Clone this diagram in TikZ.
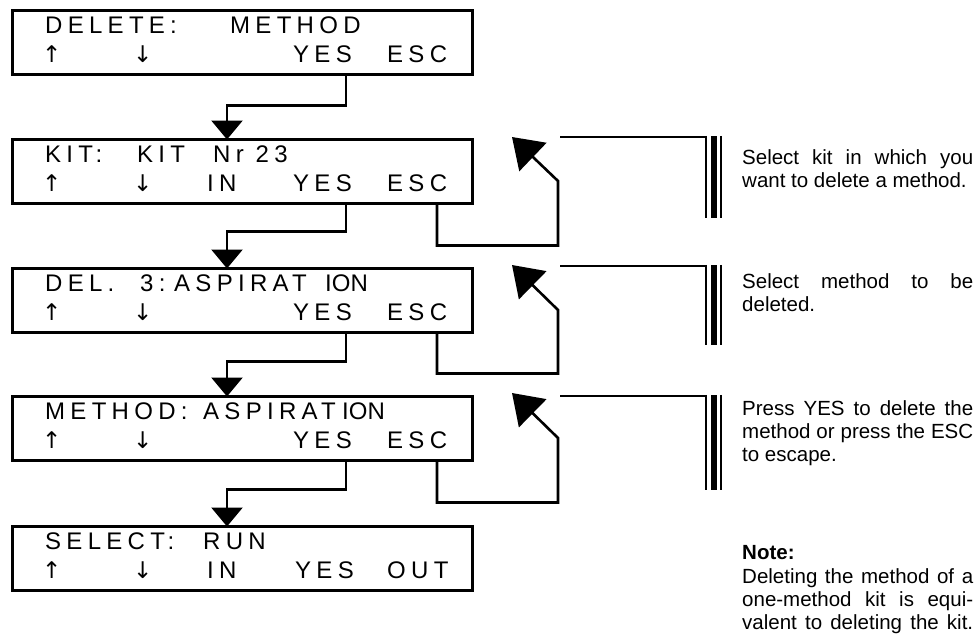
\documentclass[tikz,border=0pt]{standalone}
\usepackage{fontspec}
\setmainfont{Liberation Sans}
\newfontfamily\lcdfont[LetterSpace=22]{Liberation Sans}
\newfontfamily\lcdplain{Liberation Sans}
\newfontfamily\arrowfont{DejaVu Sans}
\usetikzlibrary{arrows.meta,calc}

\tikzset{
  lcdbox/.style={draw, line width=3pt, minimum width=460pt, minimum height=64pt,
                 inner sep=0pt, outer sep=0pt},
  lcdtxt/.style={anchor=base west, inner sep=0pt, font=\lcdfont\fontsize{24}{24}\selectfont},
  lcdion/.style={anchor=base west, inner sep=0pt, font=\lcdplain\fontsize{24}{24}\selectfont},
  lcdarr/.style={anchor=base west, inner sep=0pt, font=\arrowfont\fontsize{23}{23}\selectfont},
  flow/.style={line width=2.6pt, -{Triangle[width=31pt,length=19pt]}},
  back/.style={line width=2.6pt, line join=miter, -{Triangle[width=39pt,length=29pt]}},
  rule/.style={line width=2.5pt},
  note/.style={anchor=base west, inner sep=0pt, font=\fontsize{20.5}{23}\selectfont},
}

\begin{document}
\begin{tikzpicture}[x=1pt,y=-1pt]
\fill[white] (0,0) rectangle (974,643);
\useasboundingbox (0,0) rectangle (974,643);

% display boxes
\node[lcdbox] (b1) at (242,42.5)  {};
\node[lcdbox] (b2) at (242,171.5) {};
\node[lcdbox] (b3) at (242,300.5) {};
\node[lcdbox] (b4) at (242,428.5) {};
\node[lcdbox] (b5) at (242,558.5) {};

% box 1
\node[lcdtxt] (b1a) at (45,33.5)  {DELETE:};
\node[lcdtxt] (b1b) at (230,33.5) {METHOD};
\node[lcdarr] (b1c) at (42,62)    {↑};
\node[lcdarr] (b1d) at (133,62)   {↓};
\node[lcdtxt] (b1e) at (293,62)   {YES};
\node[lcdtxt] (b1f) at (387,62)   {ESC};

% box 2
\node[lcdtxt] (b2a) at (45,162.5)  {KIT:};
\node[lcdtxt] (b2b) at (137,162.5) {KIT};
\node[lcdtxt] (b2c) at (213,162.5) {Nr 23};
\node[lcdarr] (b2d) at (42,191)    {↑};
\node[lcdarr] (b2e) at (133,191)   {↓};
\node[lcdtxt] (b2f) at (207,191)   {IN};
\node[lcdtxt] (b2g) at (293,191)   {YES};
\node[lcdtxt] (b2h) at (387,191)   {ESC};

% box 3
\node[lcdtxt] (b3a) at (45,291.5)  {DEL.};
\node[lcdtxt] (b3b) at (140,291.5) {3:};
\node[lcdtxt] (b3c) at (174,291.5) {ASPIRAT};
\node[lcdion] (b3d) at (325,291.5) {ION};
\node[lcdarr] (b3e) at (42,320)    {↑};
\node[lcdarr] (b3f) at (133,320)   {↓};
\node[lcdtxt] (b3g) at (293,320)   {YES};
\node[lcdtxt] (b3h) at (387,320)   {ESC};

% box 4
\node[lcdtxt] (b4a) at (45,419.5)  {METHOD:};
\node[lcdtxt] (b4b) at (203,419.5) {ASPIRAT};
\node[lcdion] (b4c) at (342,419.5) {ION};
\node[lcdarr] (b4d) at (42,448)    {↑};
\node[lcdarr] (b4e) at (133,448)   {↓};
\node[lcdtxt] (b4f) at (293,448)   {YES};
\node[lcdtxt] (b4g) at (387,448)   {ESC};

% box 5
\node[lcdtxt] (b5a) at (45,549.5)  {SELECT:};
\node[lcdtxt] (b5b) at (203,549.5) {RUN};
\node[lcdarr] (b5c) at (42,578)    {↑};
\node[lcdarr] (b5d) at (133,578)   {↓};
\node[lcdtxt] (b5e) at (207,578)   {IN};
\node[lcdtxt] (b5f) at (295,578)   {YES};
\node[lcdtxt] (b5g) at (387,578)   {OUT};

% YES paths down to the next display
\coordinate (yes)  at (346,0);
\coordinate (esc)  at (437,0);
\coordinate (drop) at (227,0);
\draw[flow] (b1.south -| yes) -- ++(0,31) -| (b2.north -| drop);
\draw[flow] (b2.south -| yes) -- ++(0,28) -| (b3.north -| drop);
\draw[flow] (b3.south -| yes) -- ++(0,29) -| (b4.north -| drop);
\draw[flow] (b4.south -| yes) -- ++(0,29) -| (b5.north -| drop);

% ESC loops
\coordinate (k2) at (558,181); \coordinate (tip2) at (512,137);
\coordinate (k3) at (558,310); \coordinate (tip3) at (512,265);
\coordinate (k4) at (558,438); \coordinate (tip4) at (512,393);
\draw[back] (b2.south -| esc) -- ++(0,42) -| (k2) -- (tip2);
\draw[back] (b3.south -| esc) -- ++(0,41) -| (k3) -- (tip3);
\draw[back] (b4.south -| esc) -- ++(0,42) -| (k4) -- (tip4);

% margin rules with triple bars
\foreach \t/\b [count=\i from 2] in {137/218, 266/345, 396/490}{
  \coordinate (h\i) at (560,\t);
  \coordinate (v\i) at (706,\t);
  \draw[rule] (h\i) -- (v\i);
  \draw[line width=1.5pt] (706,\t-1.2) -- (706,\b);
  \fill (711,\t-1.2) rectangle (717,\b);
  \draw[line width=1.5pt] (721,\t-1.2) -- (721,\b);
}

% explanations
\node[note] (n1a) at (742,164.5) {\makebox[231pt][s]{Select kit in which you}};
\node[note] (n1b) at (742,187.5) {want to delete a method.};
\node[note] (n2a) at (742,288.5) {\makebox[231pt][s]{Select method to be}};
\node[note] (n2b) at (742,311.5) {deleted.};
\node[note] (n3a) at (742,415.5) {\makebox[231pt][s]{Press YES to delete the}};
\node[note] (n3b) at (742,438.5) {\makebox[231pt][s]{method or press the ESC}};
\node[note] (n3c) at (742,461.5) {to escape.};
\node[note] (n4)  at (742,559.5) {\bfseries Note:};
\node[note] (n4a) at (742,583.5) {\makebox[231pt][s]{Deleting the method of a}};
\node[note] (n4b) at (742,606.5) {\makebox[231pt][s]{one-method kit is equi-}};
\node[note] (n4c) at (742,629.5) {\makebox[231pt][s]{valent to deleting the kit.}};
\end{tikzpicture}
\end{document}
